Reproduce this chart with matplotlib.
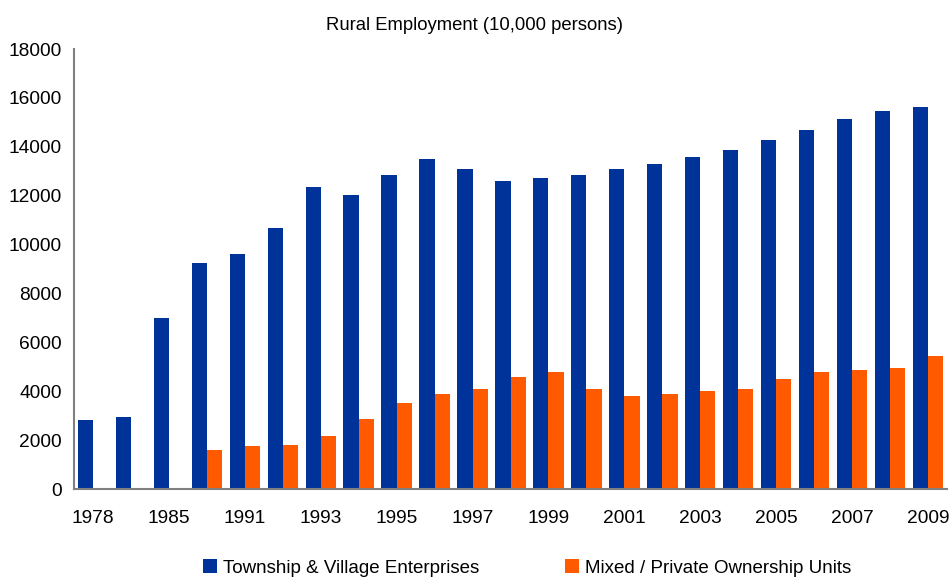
import matplotlib
matplotlib.use('Agg')
import matplotlib.pyplot as plt
import numpy as np

plt.rcParams['font.family'] = ['Liberation Sans', 'DejaVu Sans']

years = ['1978', '1980', '1985', '1990', '1991', '1992', '1993', '1994', '1995', '1996',
         '1997', '1998', '1999', '2000', '2001', '2002', '2003', '2004', '2005', '2006',
         '2007', '2008', '2009']
township = [2827, 2950, 6990, 9250, 9615, 10670, 12350, 12030, 12850, 13500,
            13090, 12600, 12720, 12850, 13090, 13300, 13580, 13870, 14280, 14690,
            15130, 15460, 15620]
private = [0, 0, 0, 1600, 1760, 1800, 2170, 2860, 3520, 3890,
           4090, 4580, 4790, 4090, 3810, 3890, 4010, 4090, 4500, 4790,
           4870, 4950, 5440]
yticks = [0, 2000, 4000, 6000, 8000, 10000, 12000, 14000, 16000, 18000]

blue = '#003399'
orange = '#FF5A00'

fig = plt.figure(figsize=(9.49, 5.79), dpi=100)
ax = fig.add_axes([74/949, 90/579, 873/949, 440/579])

x = np.arange(len(years))
w = 0.4
b1 = ax.bar(x - w/2, township, width=w, color=blue, label='Township & Village Enterprises')
b2 = ax.bar(x + w/2, private, width=w, color=orange, label='Mixed / Private Ownership Units')

ax.set_xlim(-0.5, len(years) - 0.5)
ax.set_ylim(0, 18000)
ax.set_yticks(yticks)
ax.set_yticklabels([str(t) for t in yticks], fontsize=13.8)
ax.set_xticks(x[::2])
ax.set_xticklabels(years[::2], fontsize=13.8)
ax.tick_params(axis='both', length=0)
ax.tick_params(axis='y', pad=9)
ax.tick_params(axis='x', pad=15)

for s in ['top', 'right']:
    ax.spines[s].set_visible(False)
for s in ['left', 'bottom']:
    ax.spines[s].set_color('#808080')
    ax.spines[s].set_linewidth(1.5)

fig.text(475/949, 1 - 25/579, 'Rural Employment (10,000 persons)', ha='center', va='center', fontsize=13.3)

fig.legend(handles=[b1, b2], loc='center', bbox_to_anchor=(527/949, 11/579), ncol=2,
           frameon=False, fontsize=13.5, handlelength=0.75, handleheight=0.75,
           handletextpad=0.3, columnspacing=4.6, borderpad=0)

fig.savefig('out.png', dpi=100)
